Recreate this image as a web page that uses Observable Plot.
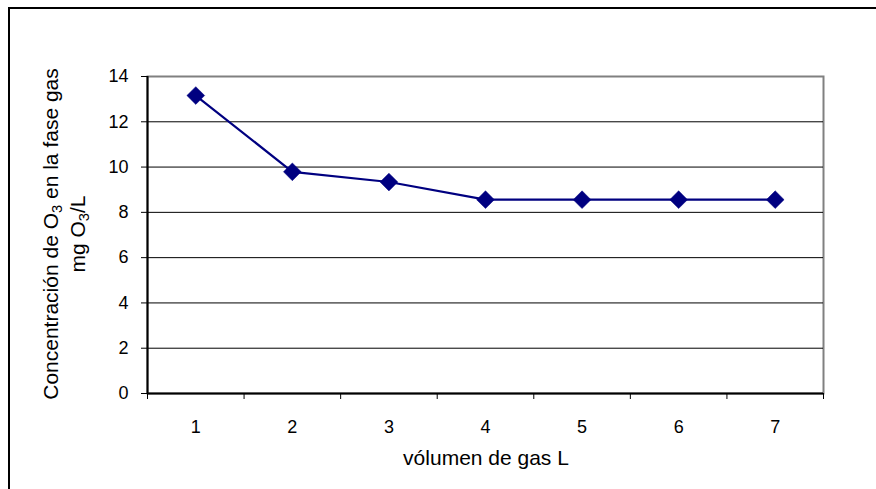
<!DOCTYPE html>
<html><head><meta charset="utf-8">
<script src="https://cdn.jsdelivr.net/npm/d3@7"></script>
<script src="https://cdn.jsdelivr.net/npm/@observablehq/plot@0.6"></script>
<style>
html,body{margin:0;padding:0;background:#fff;overflow:hidden;}
#chart svg{display:block;}
#chart svg text{font-size:18px !important;font-family:'Liberation Sans', Arial, sans-serif !important;}
#chart svg text.ttl{font-size:21px !important;}
</style></head><body><div id="chart"></div>
<script>
// Data
const volumes = [1, 2, 3, 4, 5, 6, 7];
const concentrations = [13.16, 9.79, 9.34, 8.56, 8.56, 8.56, 8.56];
const yTicks = [0, 2, 4, 6, 8, 10, 12, 14];
const gridValues = [2, 4, 6, 8, 10, 12];
const xTitle = "vólumen de gas L";
const yTitleLine1 = ["Concentración de O", "3", " en la fase gas"];
const yTitleLine2 = ["mg O", "3", "/L"];

const data = volumes.map((v, i) => ({v, c: concentrations[i]}));
const bandEdges = d3.range(0.5, volumes.length + 1, 1);

const navy = "#000080";
const font = "'Liberation Sans', Arial, sans-serif";

const plot = Plot.plot({
  width: 876, height: 489,
  marginLeft: 147, marginRight: 53, marginTop: 76, marginBottom: 96,
  style: {fontFamily: font, fontSize: "18px", color: "#000", background: "#fff", overflow: "hidden"},
  x: {domain: [0.5, volumes.length + 0.5]},
  y: {domain: [0, 14]},
  marks: [
    Plot.frame({stroke: "#808080", strokeWidth: 2}),
    Plot.ruleY(gridValues, {stroke: "#000", strokeWidth: 1}),
    Plot.axisX(bandEdges, {tickSize: 6, tickFormat: () => "", label: null}),
    Plot.axisX(volumes, {tickSize: 0, tickPadding: 27, label: null, fontSize: 18}),
    Plot.axisY(yTicks, {tickSize: 6, tickPadding: 13, label: null, fontSize: 18}),
    Plot.ruleY([0], {stroke: "#000", strokeWidth: 2}),
    Plot.ruleX([0.5], {stroke: "#000", strokeWidth: 2}),
    Plot.line(data, {x: "v", y: "c", stroke: navy, strokeWidth: 2.2}),
    Plot.dot(data, {x: "v", y: "c", symbol: "diamond2", r: 8, fill: navy, stroke: navy, strokeWidth: 0.5})
  ]
});

const svg = d3.select(plot);

svg.append("rect")
  .attr("x", 9).attr("y", 8).attr("width", 900).attr("height", 600)
  .attr("fill", "none").attr("stroke", "#000").attr("stroke-width", 2);

function addSubText(parent, parts) {
  parent.append("tspan").text(parts[0]);
  parent.append("tspan").attr("dy", 4).attr("font-size", "70%").text(parts[1]);
  parent.append("tspan").attr("dy", -4).text(parts[2]);
}

const t1 = svg.append("text").attr("class", "ttl")
  .attr("transform", "translate(58,234) rotate(-90)")
  .attr("text-anchor", "middle").attr("fill", "#000");
addSubText(t1, yTitleLine1);

const t2 = svg.append("text").attr("class", "ttl")
  .attr("transform", "translate(85,234) rotate(-90)")
  .attr("text-anchor", "middle").attr("fill", "#000");
addSubText(t2, yTitleLine2);

svg.append("text").attr("class", "ttl")
  .attr("x", 486).attr("y", 465)
  .attr("text-anchor", "middle").attr("fill", "#000")
  .text(xTitle);

document.getElementById("chart").appendChild(plot);
</script>
</body></html>
